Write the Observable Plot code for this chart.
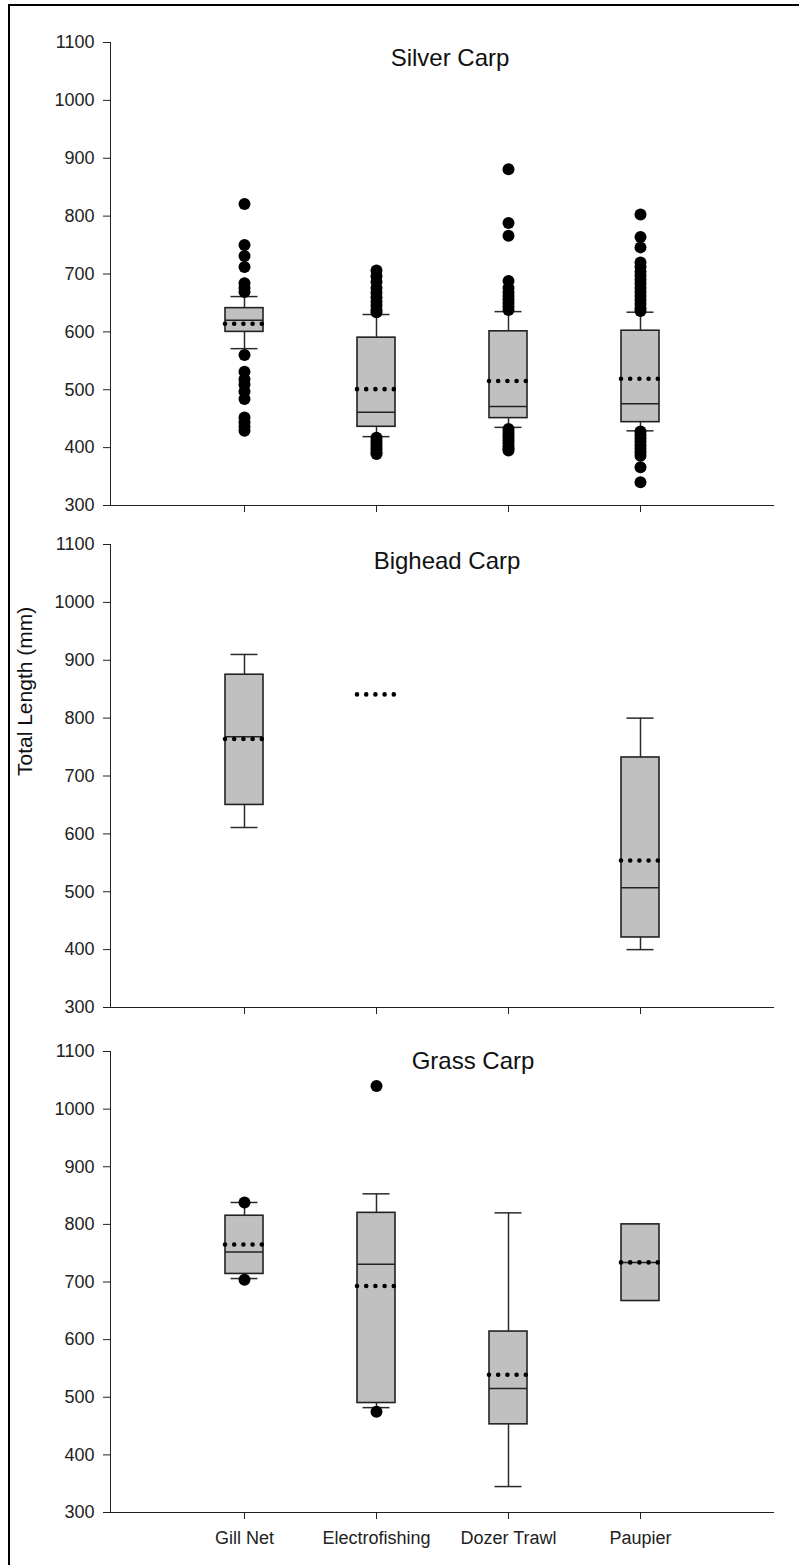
<!DOCTYPE html>
<html>
<head>
<meta charset="utf-8">
<script src="https://cdn.jsdelivr.net/npm/d3@7"></script>
<script src="https://cdn.jsdelivr.net/npm/@observablehq/plot@0.6"></script>
<style>
  body { margin: 0; background: #fff; }
  #fig { position: relative; width: 799px; height: 1565px; overflow: hidden; font-family: "Liberation Sans", Arial, sans-serif; }
  #border { position: absolute; left: 8px; top: 4px; right: -10px; bottom: -10px; border-top: 2px solid #000; border-left: 2px solid #000; }
  .panel { position: absolute; left: 0; }
</style>
</head>
<body>
<div id="fig"><div id="border"></div></div>
<script>
const methods = ["Gill Net", "Electrofishing", "Dozer Trawl", "Paupier"];
const yTicks = [300, 400, 500, 600, 700, 800, 900, 1000, 1100];

// Silver Carp
const silverQ1 = [600, 436, 451, 444];
const silverMedian = [620, 461, 471, 476];
const silverQ3 = [641, 590, 601, 602];
const silverLow = [571, 419, 435, 429];
const silverHigh = [661, 630, 635, 634];
const silverMean = [614, 501, 515, 519];
const silverOutGill = [821, 750, 731, 712, 684, 676, 669, 560, 531, 518, 509, 497, 484, 452, 444, 436, 429];
const silverOutElectro = [706, 696, 686, 676, 668, 660, 652, 645, 638, 634, 417, 412, 407, 402, 397, 392, 389];
const silverOutDozer = [881, 788, 766, 688, 676, 668, 662, 656, 650, 644, 638, 432, 427, 422, 417, 412, 407, 402, 398, 395];
const silverOutPaupier = [803, 764, 746, 720, 712, 704, 697, 690, 683, 676, 669, 662, 655, 648, 641, 636, 428, 422, 416, 410, 404, 398, 392, 386, 366, 340];

// Bighead Carp
const bigheadQ1 = [650, null, null, 421];
const bigheadMedian = [768, null, null, 507];
const bigheadQ3 = [875, null, null, 732];
const bigheadLow = [611, null, null, 400];
const bigheadHigh = [910, null, null, 800];
const bigheadMean = [764, 841, null, 554];

// Grass Carp
const grassQ1 = [714, 490, 453, 667];
const grassMedian = [752, 731, 515, 734];
const grassQ3 = [815, 820, 614, 800];
const grassLow = [706, 482, 345, null];
const grassHigh = [838, 853, 820, null];
const grassMean = [765, 693, 539, 734];
const grassOutGill = [838, 704];
const grassOutElectro = [1040, 475];

function panel(o) {
  const rows = methods.map((m, i) => ({method: m, q1: o.q1[i], med: o.med[i], q3: o.q3[i], lo: o.lo[i], hi: o.hi[i], mean: o.mean[i]}));
  const boxes = rows.filter(d => d.q1 != null);
  const whisk = rows.filter(d => d.lo != null);
  const means = rows.filter(d => d.mean != null);
  const pts = o.outliers.flatMap((arr, i) => arr.map(v => ({method: methods[i], v})));
  const marks = [
    Plot.barY(boxes, {x: "method", y1: "q1", y2: "q3", fill: "#c0c0c0", stroke: "#222", strokeWidth: 1.6}),
    Plot.tickY(boxes, {x: "method", y: "med", stroke: "#222", strokeWidth: 1.5}),
    Plot.ruleX(whisk, {x: "method", y1: "q3", y2: "hi", stroke: "#2a2a2a", strokeWidth: 1.5}),
    Plot.ruleX(whisk, {x: "method", y1: "lo", y2: "q1", stroke: "#2a2a2a", strokeWidth: 1.5}),
    Plot.tickY(whisk, {x: "method", y: "hi", stroke: "#2a2a2a", strokeWidth: 1.5, insetLeft: 5.5, insetRight: 5.5}),
    Plot.tickY(whisk, {x: "method", y: "lo", stroke: "#2a2a2a", strokeWidth: 1.5, insetLeft: 5.5, insetRight: 5.5}),
    Plot.tickY(means, {x: "method", y: "mean", stroke: "#000", strokeWidth: 4.6, strokeDasharray: "0,9.2", strokeLinecap: "round"}),
    Plot.dot(pts, {x: "method", y: "v", r: 6, fill: "#000", stroke: "none"}),
    Plot.text([o.title], {frameAnchor: "top", dx: o.tdx, dy: o.tdy, lineAnchor: "middle", fontSize: 24, fill: "#111"})
  ];
  if (o.ylabel) {
    marks.push(Plot.text([o.ylabel], {frameAnchor: "left", dx: -85, rotate: -90, fontSize: 21, fill: "#111"}));
  }
  const chart = Plot.plot({
    width: 799,
    height: o.height,
    marginLeft: 110,
    marginRight: 26,
    marginTop: o.mt,
    marginBottom: o.mb,
    style: {fontFamily: "'Liberation Sans', Arial, sans-serif", fontSize: "18px", color: "#222", background: "transparent", overflow: "visible"},
    x: {type: "band", domain: methods, paddingInner: 0.7134, paddingOuter: 0.8567, align: 0.5,
        label: null, tickSize: 7, tickPadding: 12, line: true,
        tickFormat: o.showX ? (d => d) : (() => "")},
    y: {domain: [300, 1100], ticks: yTicks, tickSize: 7, tickPadding: 9, line: true, label: null, tickFormat: d => String(d)},
    marks
  });
  chart.classList.add("panel");
  chart.style.top = o.top + "px";
  document.getElementById("fig").appendChild(chart);
}

panel({title: "Silver Carp", q1: silverQ1, med: silverMedian, q3: silverQ3, lo: silverLow, hi: silverHigh, mean: silverMean,
  outliers: [silverOutGill, silverOutElectro, silverOutDozer, silverOutPaupier],
  top: 0, height: 520, mt: 42, mb: 15, showX: false, tdx: 8, tdy: 16});
panel({title: "Bighead Carp", q1: bigheadQ1, med: bigheadMedian, q3: bigheadQ3, lo: bigheadLow, hi: bigheadHigh, mean: bigheadMean,
  outliers: [[], [], [], []], ylabel: "Total Length (mm)",
  top: 520, height: 505, mt: 24, mb: 18, showX: false, tdx: 5, tdy: 17});
panel({title: "Grass Carp", q1: grassQ1, med: grassMedian, q3: grassQ3, lo: grassLow, hi: grassHigh, mean: grassMean,
  outliers: [grassOutGill, grassOutElectro, [], []],
  top: 1025, height: 540, mt: 26, mb: 53, showX: true, tdx: 31, tdy: 10});
</script>
</body>
</html>
